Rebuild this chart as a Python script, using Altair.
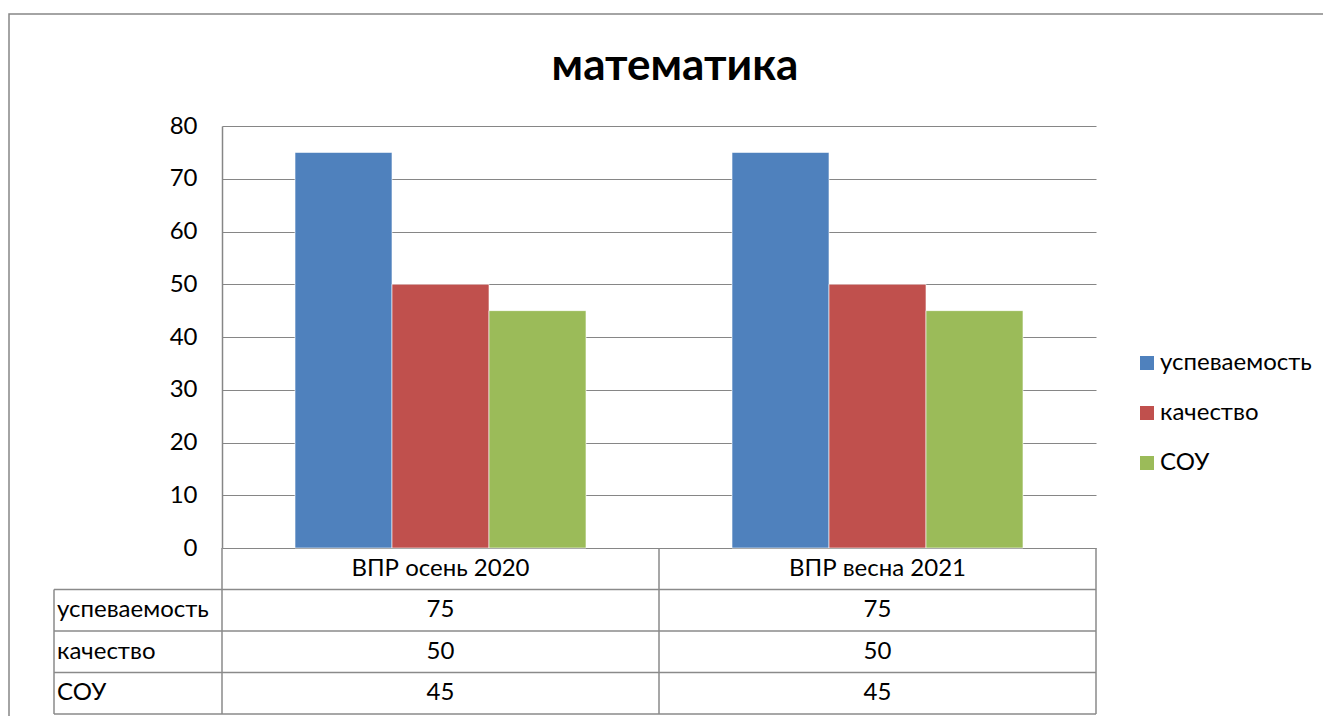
import altair as alt
import pandas as pd

categories = ["ВПР осень 2020", "ВПР весна 2021"]
series = ["успеваемость", "качество", "СОУ"]
uspevaemost = [75, 75]
kachestvo = [50, 50]
sou = [45, 45]
colors = ["#4F81BD", "#C0504D", "#9BBB59"]
y_ticks = [0, 10, 20, 30, 40, 50, 60, 70, 80]
title_text = "математика"

FONT = "Lato"
FS = 24
GRID = "#868686"
LINE = "#8a8a8a"

values_by_series = [uspevaemost, kachestvo, sou]
rows = []
for s, vals in zip(series, values_by_series):
    for c, v in zip(categories, vals):
        rows.append({"cat": c, "series": s, "value": v})
bars_df = pd.DataFrame(rows)

W, H = 874, 422

x_enc = alt.X("cat:N", sort=categories, scale=alt.Scale(domain=categories, paddingInner=0, paddingOuter=0), axis=None)

bars = alt.Chart(bars_df).mark_bar(stroke="white", strokeWidth=1, strokeOpacity=0.6).encode(
    x=x_enc,
    xOffset=alt.XOffset("series:N", sort=series, scale=alt.Scale(domain=series, paddingInner=0, paddingOuter=0.7526)),
    y=alt.Y("value:Q", scale=alt.Scale(domain=[0, 80], nice=False),
            axis=alt.Axis(values=y_ticks, title=None, grid=True, gridColor=GRID, gridWidth=1.2,
                          domain=True, domainColor=GRID, domainWidth=1.5, ticks=False,
                          labelFontSize=FS, labelFont=FONT, labelColor="black", labelPadding=25)),
    color=alt.Color("series:N", sort=series, scale=alt.Scale(domain=series, range=colors),
                    legend=alt.Legend(title=None, orient="none", legendX=913, legendY=225,
                                      symbolType="square", symbolSize=196, symbolStrokeWidth=0,
                                      labelFontSize=FS, labelFont=FONT, labelColor="black",
                                      rowPadding=26, labelOffset=1, padding=0)),
)

# table (data table under the chart)
ty_scale = alt.Scale(domain=[0, 4], range=[H, H + 166], nice=False, zero=False)

trows = []
for i, c in enumerate(categories):
    trows.append({"cat": c, "ty": 0.5, "txt": c})
    for j, vals in enumerate(values_by_series):
        trows.append({"cat": c, "ty": 1.5 + j, "txt": str(vals[i])})
table_df = pd.DataFrame(trows)

table_vals = alt.Chart(table_df).mark_text(fontSize=FS, font=FONT, color="black", baseline="middle", align="center").encode(
    x=x_enc,
    y=alt.Y("ty:Q", scale=ty_scale, axis=None),
    text="txt:N",
)

label_df = pd.DataFrame({"ty": [1.5 + j for j in range(len(series))], "txt": series})
table_labels = alt.Chart(label_df).mark_text(fontSize=FS, font=FONT, color="black", baseline="middle", align="left").encode(
    x=alt.value(-165),
    y=alt.Y("ty:Q", scale=ty_scale, axis=None),
    text="txt:N",
)

hl_df = pd.DataFrame({"ty": [1, 2, 3, 4]})
hlines = alt.Chart(hl_df).mark_rule(color=LINE, strokeWidth=1.5).encode(
    x=alt.value(-168), x2=alt.value(W),
    y=alt.Y("ty:Q", scale=ty_scale, axis=None),
)

vl_df = pd.DataFrame({"cat": categories, "y0": [0, 0], "y1": [4, 4]})
vlines = alt.Chart(vl_df).mark_rule(color=LINE, strokeWidth=1.5).encode(
    x=alt.X("cat:N", sort=categories, bandPosition=0, scale=alt.Scale(domain=categories, paddingInner=0, paddingOuter=0), axis=None),
    y=alt.Y("y0:Q", scale=ty_scale, axis=None),
    y2="y1:Q",
)
vright = alt.Chart(vl_df.tail(1)).mark_rule(color=LINE, strokeWidth=1.5).encode(
    x=alt.X("cat:N", sort=categories, bandPosition=1, scale=alt.Scale(domain=categories, paddingInner=0, paddingOuter=0), axis=None),
    y=alt.Y("y0:Q", scale=ty_scale, axis=None),
    y2="y1:Q",
)
vleft = alt.Chart(pd.DataFrame({"y0": [1], "y1": [4]})).mark_rule(color=LINE, strokeWidth=1.5).encode(
    x=alt.value(-168),
    y=alt.Y("y0:Q", scale=ty_scale, axis=None),
    y2="y1:Q",
)

frame = alt.Chart(pd.DataFrame({"a": [0]})).mark_rect(fill=None, stroke=GRID, strokeWidth=1.5).encode(
    x=alt.value(-213), x2=alt.value(1300), y=alt.value(-112), y2=alt.value(800),
)

title = alt.Chart(pd.DataFrame({"t": [title_text]})).mark_text(
    fontSize=44, font=FONT, fontWeight="bold", color="black", align="center", baseline="alphabetic"
).encode(x=alt.value(453), y=alt.value(-46), text="t:N")

chart = alt.layer(frame, title, bars, table_vals, table_labels, hlines, vlines, vright, vleft).resolve_scale(
    y="independent"
).properties(
    width=W, height=H,
    autosize=alt.AutoSizeParams(type="none"),
    padding={"left": 214, "top": 118, "right": 227, "bottom": 168},
).configure_view(stroke=None)

chart.save("out.html", embed_options={"renderer": "svg", "actions": False})
